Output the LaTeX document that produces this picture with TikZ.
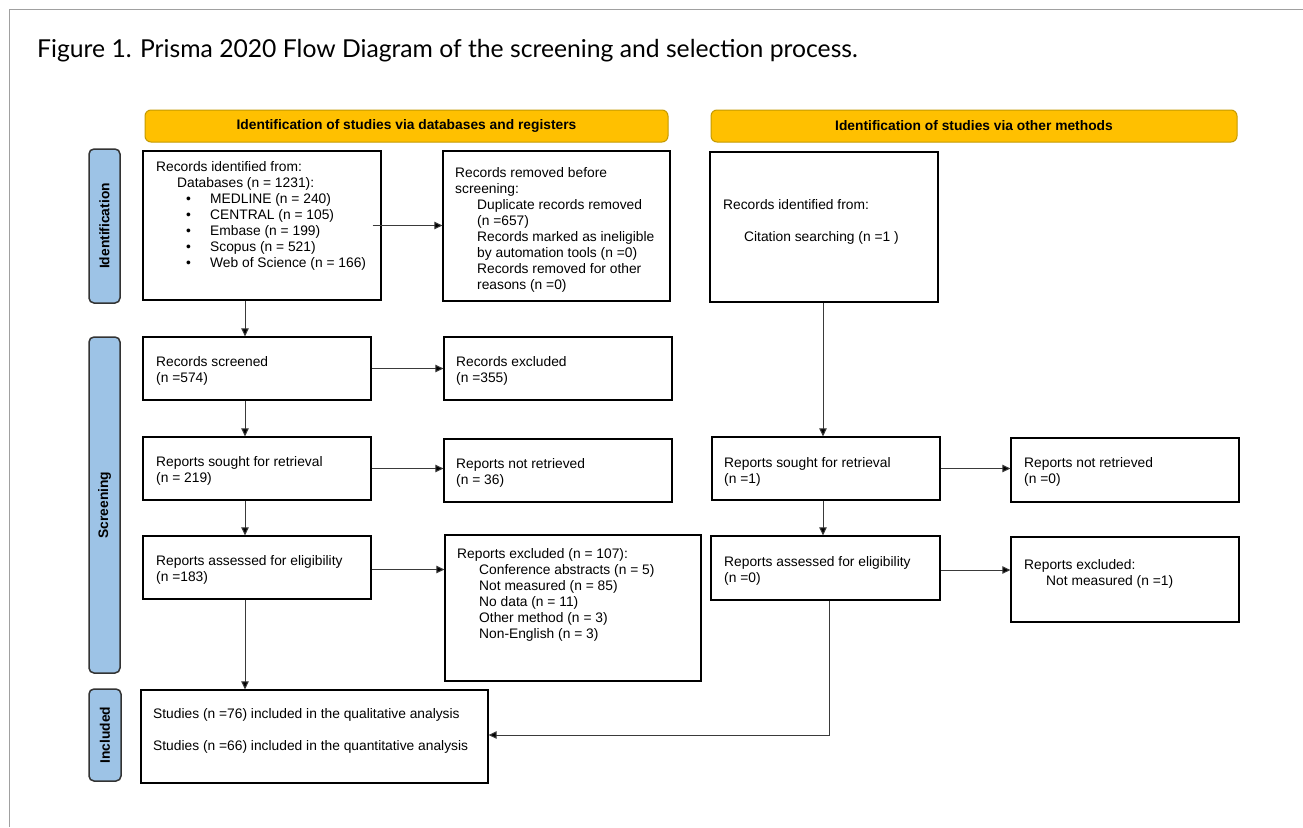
\documentclass[tikz,border=0pt]{standalone}
\usepackage{fontspec}
\setmainfont{Liberation Sans}
\newfontfamily\titlefont{Lato}
\usetikzlibrary{arrows.meta}
\definecolor{hdrfill}{HTML}{FFC000}
\definecolor{hdrdraw}{HTML}{C49A00}
\definecolor{barfill}{HTML}{9DC3E6}
\definecolor{bardraw}{HTML}{333333}
\definecolor{framegray}{HTML}{A0A0A0}
\definecolor{linkgray}{HTML}{3A3A3A}
\newcommand\pbox[7]{\node[#1, minimum width={#5-#3}, minimum height={#6-#4}] (#2) at ({(#3+#5)/2},{(#4+#6)/2}) {#7};}
\begin{document}
\begin{tikzpicture}[x=1pt,y=-1pt,
 box/.style={draw=black, line width=1.3pt, inner sep=0, fill=white},
 hdr/.style={draw=hdrdraw, fill=hdrfill, rounded corners=6pt, line width=1pt, inner sep=0, font=\fontsize{13.8}{16}\bfseries\selectfont},
 bar/.style={draw=bardraw, fill=barfill, rounded corners=5pt, line width=1.5pt, inner sep=0},
 bartext/.style={rotate=90, inner sep=0, font=\fontsize{13.8}{16}\bfseries\selectfont},
 txt/.style={anchor=north west, inner sep=0, align=left, font=\fontsize{13.8}{16}\selectfont},
 link/.style={draw=linkgray, line width=1pt, -{Triangle[length=8pt,width=7.5pt,fill=black]}},
 ]
\useasboundingbox (0,0) rectangle (1303,827);
\fill[white] (0,0) rectangle (1303,827);
% frame
\draw[framegray, line width=1.5pt] (9.5,827) -- (9.5,9.5) -- (1303,9.5);
% title
\node[anchor=base west, inner sep=0, font=\titlefont\fontsize{24.7}{30}\selectfont] (title) at (37,57) {Figure 1. Prisma 2020 Flow Diagram of the screening and selection process.};
% headers
\pbox{hdr}{h1}{145}{110}{668}{142}{Identification of studies via databases and registers}
\pbox{hdr}{h2}{711}{110}{1237}{142}{Identification of studies via other methods}
% side bars
\pbox{bar}{b1}{89}{149}{120}{303}{}
\pbox{bar}{b2}{89}{337}{120}{673}{}
\pbox{bar}{b3}{89}{689}{121}{781}{}
\node[bartext] (l1) at (b1) {Identification};
\node[bartext] (l2) at (b2) {Screening};
\node[bartext] (l3) at (b3) {Included};
% boxes
\pbox{box}{A}{143}{151}{381}{300}{}
\pbox{box}{B}{443}{151}{670}{301}{}
\pbox{box}{C}{710}{152}{938}{302}{}
\pbox{box}{D}{143}{337}{371}{400}{}
\pbox{box}{E}{444}{337}{672}{400}{}
\pbox{box}{F}{143}{437}{371}{500}{}
\pbox{box}{G}{444}{439}{672}{502}{}
\pbox{box}{H}{143}{536}{371}{599}{}
\pbox{box}{I}{445}{535}{701}{681}{}
\pbox{box}{J}{712}{437}{940}{500}{}
\pbox{box}{K}{1011}{438}{1239}{502}{}
\pbox{box}{L}{711}{536}{940}{600}{}
\pbox{box}{M}{1011}{537}{1239}{622}{}
\pbox{box}{N}{141}{690}{488}{783}{}
% texts
\node[txt] (tA) at (156,161) {Records identified from:\\
\hspace*{21pt}Databases (n = 1231):\\
\hspace*{30pt}\makebox[24pt][l]{\textbullet}MEDLINE (n = 240)\\
\hspace*{30pt}\makebox[24pt][l]{\textbullet}CENTRAL (n = 105)\\
\hspace*{30pt}\makebox[24pt][l]{\textbullet}Embase (n = 199)\\
\hspace*{30pt}\makebox[24pt][l]{\textbullet}Scopus (n = 521)\\
\hspace*{30pt}\makebox[24pt][l]{\textbullet}Web of Science (n = 166)};
\node[txt] (tB) at (455,167) {Records removed before\\
screening:\\
\hspace*{22pt}Duplicate records removed\\
\hspace*{22pt}(n =657)\\
\hspace*{22pt}Records marked as ineligible\\
\hspace*{22pt}by automation tools (n =0)\\
\hspace*{22pt}Records removed for other\\
\hspace*{22pt}reasons (n =0)};
\node[txt] (tC) at (723,199) {Records identified from:\\[16pt]
\hspace*{21pt}Citation searching (n =1 )};
\node[txt] (tD) at (156,356) {Records screened\\(n =574)};
\node[txt] (tE) at (456,356) {Records excluded\\(n =355)};
\node[txt] (tF) at (156,456) {Reports sought for retrieval\\(n = 219)};
\node[txt] (tG) at (456,458) {Reports not retrieved\\(n = 36)};
\node[txt] (tH) at (156,555) {Reports assessed for eligibility\\(n =183)};
\node[txt] (tI) at (457,548) {Reports excluded (n = 107):\\
\hspace*{22pt}Conference abstracts (n = 5)\\
\hspace*{22pt}Not measured (n = 85)\\
\hspace*{22pt}No data (n = 11)\\
\hspace*{22pt}Other method (n = 3)\\
\hspace*{22pt}Non-English (n = 3)};
\node[txt] (tJ) at (724,457) {Reports sought for retrieval\\(n =1)};
\node[txt] (tK) at (1024,457) {Reports not retrieved\\(n =0)};
\node[txt] (tL) at (724,556) {Reports assessed for eligibility\\(n =0)};
\node[txt] (tM) at (1024,559) {Reports excluded:\\\hspace*{22pt}Not measured (n =1)};
\node[txt] (tN) at (153,708) {Studies (n =76) included in the qualitative analysis\\[16pt]
Studies (n =66) included in the quantitative analysis};
% connector columns
\coordinate (c1) at (245,0);
\coordinate (c2) at (823,0);
\coordinate (r) at (829,735);
% connectors
\draw[link] ([xshift=-9pt]A.east) -- (A.east -| B.west);
\draw[link] (A.south -| c1) -- (D.north -| c1);
\draw[link] (D.east) -- (D.east -| E.west);
\draw[link] (D.south -| c1) -- (F.north -| c1);
\draw[link] (F.east) -- (F.east -| G.west);
\draw[link] (F.south -| c1) -- (H.north -| c1);
\draw[link] ([yshift=-2pt]H.east) -- ([yshift=-2pt]H.east -| I.west);
\draw[link] (H.south -| c1) -- (N.north -| c1);
\draw[link] (C.south -| c2) -- (J.north -| c2);
\draw[link] (J.east) -- (J.east -| K.west);
\draw[link] (J.south -| c2) -- (L.north -| c2);
\draw[link] ([yshift=-2pt]L.east) -- ([yshift=-2pt]L.east -| M.west);
\draw[link] (L.south -| r) -- (r) -- (r -| N.east);
\end{tikzpicture}
\end{document}
